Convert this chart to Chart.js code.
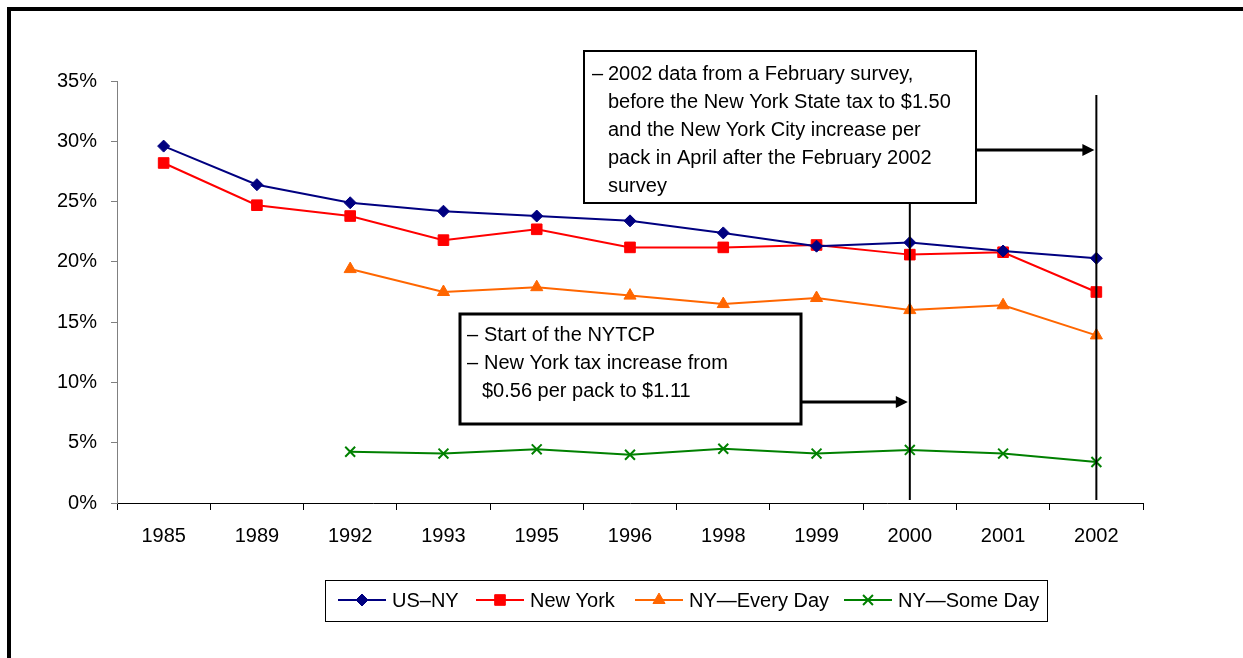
<!DOCTYPE html>
<html>
<head>
<meta charset="utf-8">
<script src="https://cdn.jsdelivr.net/npm/chart.js@4"></script>
<style>
  html, body { margin: 0; padding: 0; background: #fff; }
  #wrap { width: 1243px; height: 658px; }
</style>
</head>
<body>
<div id="wrap"><canvas id="smoking"></canvas></div>
<script>
const years = ["1985", "1989", "1992", "1993", "1995", "1996", "1998", "1999", "2000", "2001", "2002"];
const usNy = [29.6, 26.4, 24.9, 24.2, 23.8, 23.4, 22.4, 21.3, 21.6, 20.9, 20.3];
const newYork = [28.2, 24.7, 23.8, 21.8, 22.7, 21.2, 21.2, 21.4, 20.6, 20.8, 17.5];
const everyDay = [null, null, 19.4, 17.5, 17.9, 17.2, 16.5, 17.0, 16.0, 16.4, 13.9];
const someDay = [null, null, 4.25, 4.1, 4.45, 4.0, 4.5, 4.1, 4.4, 4.1, 3.4];

const FONT = "'Liberation Sans', Arial, sans-serif";

const note2002 = [
  "2002 data from a February survey,",
  "before the New York State tax to $1.50",
  "and the New York City increase per",
  "pack in April after the February 2002",
  "survey"
];
const note2000 = ["Start of the NYTCP", "New York tax increase from", "$0.56 per pack to $1.11"];

function series(label, data, color, style, radius) {
  return {
    label: label,
    data: data,
    borderColor: color,
    backgroundColor: color,
    borderWidth: 2,
    pointStyle: style,
    pointRadius: radius,
    pointBorderWidth: style === "crossRot" ? 2 : 1,
    pointBorderColor: color,
    pointBackgroundColor: color,
    tension: 0,
    spanGaps: false
  };
}

function arrow(ctx, x1, y, x2) {
  ctx.beginPath();
  ctx.moveTo(x1, y);
  ctx.lineTo(x2 - 10, y);
  ctx.lineWidth = 3;
  ctx.strokeStyle = "#000";
  ctx.stroke();
  ctx.beginPath();
  ctx.moveTo(x2, y);
  ctx.lineTo(x2 - 12, y - 6);
  ctx.lineTo(x2 - 12, y + 6);
  ctx.closePath();
  ctx.fillStyle = "#000";
  ctx.fill();
}

const extras = {
  id: "extras",
  afterDraw(chart) {
    const ctx = chart.ctx;
    const x = chart.scales.x;
    const y = chart.scales.y;
    const x2000 = x.getPixelForValue(years.indexOf("2000"));
    const x2002 = x.getPixelForValue(years.indexOf("2002"));
    const yBase = y.getPixelForValue(0) - 3;
    ctx.save();

    // page frame (top and left edges)
    ctx.fillStyle = "#000";
    ctx.fillRect(7, 7, 1243, 4);
    ctx.fillRect(7, 7, 4, 658);

    // vertical markers
    ctx.strokeStyle = "#000";
    ctx.lineWidth = 2;
    ctx.beginPath();
    ctx.moveTo(x2000, 203);
    ctx.lineTo(x2000, yBase);
    ctx.moveTo(x2002, 95);
    ctx.lineTo(x2002, yBase);
    ctx.stroke();

    // note boxes
    ctx.font = "20px " + FONT;
    ctx.textBaseline = "alphabetic";
    ctx.textAlign = "left";

    ctx.fillStyle = "#fff";
    ctx.fillRect(584, 51, 392, 152);
    ctx.lineWidth = 2;
    ctx.strokeRect(584, 51, 392, 152);
    ctx.fillStyle = "#000";
    ctx.fillText("\u2013", 592, 80);
    note2002.forEach((t, i) => ctx.fillText(t, 608, 80 + i * 28));
    arrow(ctx, 976, 150, x2002 - 2);

    ctx.fillStyle = "#fff";
    ctx.fillRect(460, 314, 341, 110);
    ctx.strokeRect(460, 314, 341, 110);
    ctx.fillStyle = "#000";
    ctx.fillText("\u2013", 467, 341);
    ctx.fillText(note2000[0], 484, 341);
    ctx.fillText("\u2013", 467, 369);
    ctx.fillText(note2000[1], 484, 369);
    ctx.fillText(note2000[2], 482, 397);
    arrow(ctx, 801, 402, x2000 - 2);

    // legend
    ctx.lineWidth = 1;
    ctx.strokeStyle = "#000";
    ctx.strokeRect(325.5, 580.5, 722, 41);
    const starts = [338, 476, 635, 844];
    const ly = 600;
    chart.data.datasets.forEach((ds, i) => {
      const sx = starts[i];
      ctx.strokeStyle = ds.borderColor;
      ctx.fillStyle = ds.borderColor;
      ctx.lineWidth = 2;
      ctx.beginPath();
      ctx.moveTo(sx, ly);
      ctx.lineTo(sx + 48, ly);
      ctx.stroke();
      ctx.lineWidth = ds.pointBorderWidth;
      Chart.helpers.drawPoint(ctx, {
        pointStyle: ds.pointStyle,
        radius: ds.pointRadius,
        borderWidth: ds.pointBorderWidth
      }, sx + 24, ly);
      ctx.fillStyle = "#000";
      ctx.textBaseline = "middle";
      ctx.fillText(ds.label, sx + 54, ly + 1);
    });
    ctx.restore();
  }
};

new Chart(document.getElementById("smoking"), {
  type: "line",
  data: {
    labels: years,
    datasets: [
      series("US\u2013NY", usNy, "#000080", "rectRot", 6),
      series("New York", newYork, "#FF0000", "rect", 7.5),
      series("NY\u2014Every Day", everyDay, "#FF6600", "triangle", 7),
      series("NY\u2014Some Day", someDay, "#008000", "crossRot", 7)
    ]
  },
  options: {
    responsive: true,
    maintainAspectRatio: false,
    animation: false,
    layout: { padding: { left: 0, top: 81, right: 100, bottom: 115 } },
    plugins: {
      legend: { display: false },
      tooltip: { enabled: false }
    },
    scales: {
      x: {
        offset: true,
        grid: { offset: true, drawOnChartArea: false, tickLength: 7, color: "#000" },
        border: { color: "#000", width: 1 },
        ticks: { color: "#000", font: { family: FONT, size: 20 }, padding: 14, maxRotation: 0 },
        afterFit: s => { s.height = 40; }
      },
      y: {
        min: 0,
        max: 35,
        grid: { drawOnChartArea: false, tickLength: 6, color: "#808080" },
        border: { color: "#808080", width: 1 },
        ticks: {
          stepSize: 5,
          color: "#000",
          font: { family: FONT, size: 20 },
          padding: 14,
          callback: v => v + "%"
        },
        afterFit: s => { s.width = 117; }
      }
    }
  },
  plugins: [extras]
});
</script>
</body>
</html>
